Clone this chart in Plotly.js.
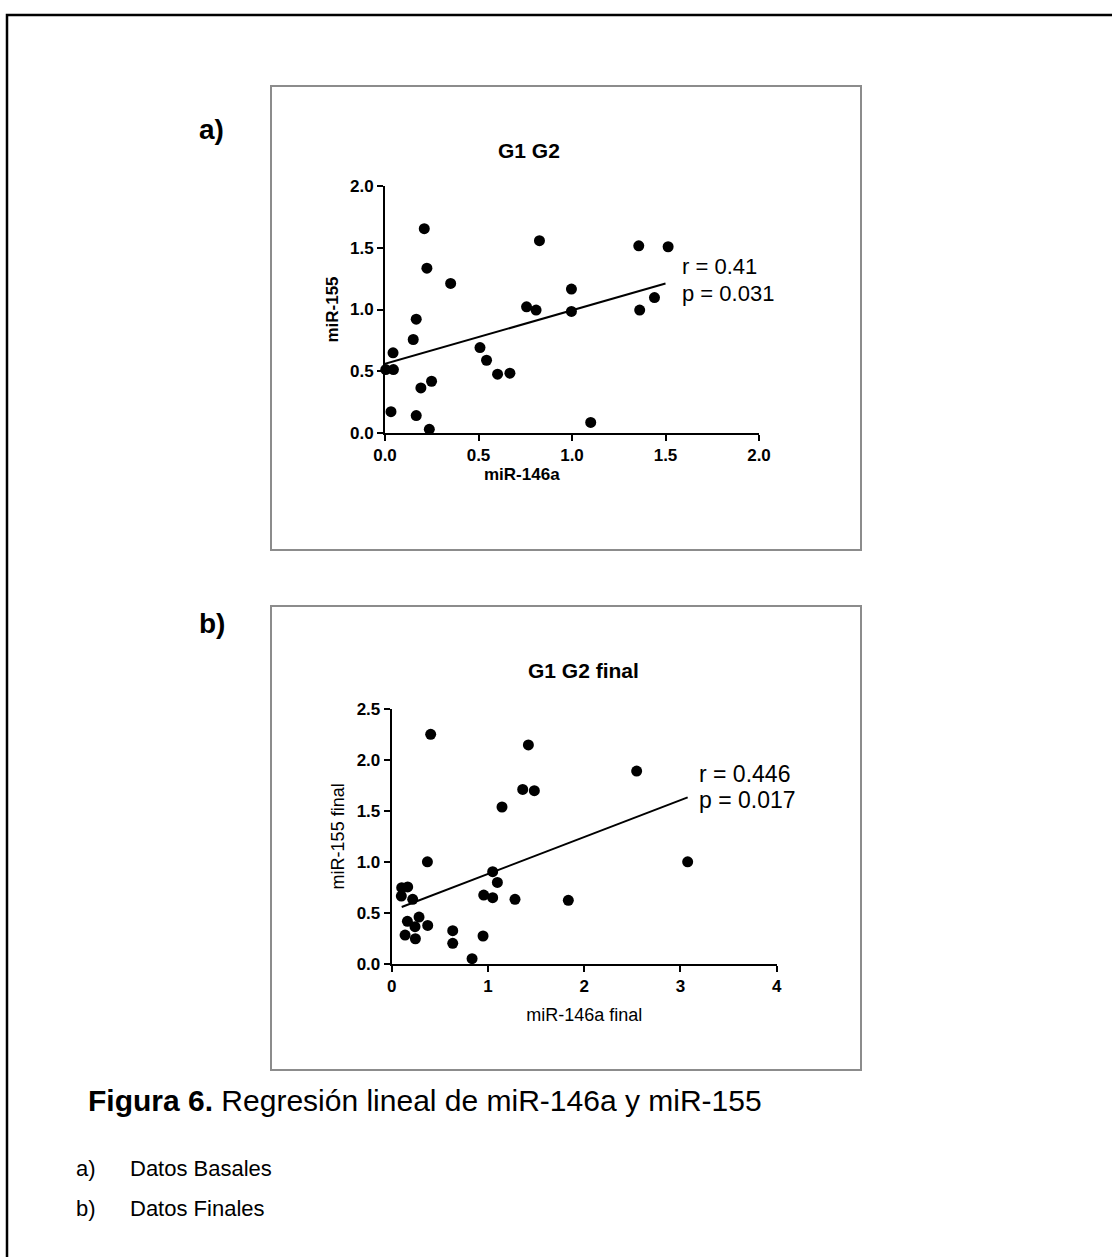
<!DOCTYPE html>
<html>
<head>
<meta charset="utf-8">
<script src="https://cdn.plot.ly/plotly-3.0.1.min.js"></script>
<style>html,body{margin:0;padding:0;background:#fff;}</style>
</head>
<body>
<div id="chart" style="width:1112px;height:1257px;"></div>
<script>
// ---- Data: panel a (basal) ----
const basalMiR146a = [0.21,0.826,1.357,1.514,0.224,0.351,0.997,1.441,0.757,0.808,0.997,1.362,0.167,0.151,0.043,0.508,0.543,0.602,0.668,0.004,0.045,0.249,0.192,0.032,0.167,1.10,0.237];
const basalMiR155  = [1.654,1.557,1.516,1.508,1.335,1.211,1.165,1.097,1.022,0.995,0.984,0.995,0.922,0.757,0.649,0.692,0.589,0.476,0.484,0.514,0.514,0.419,0.365,0.173,0.141,0.086,0.03];
const basalFitX = [0, 1.5];
const basalFitY = [0.56, 1.21];
const basalStats = ["r = 0.41", "p = 0.031"];

// ---- Data: panel b (final) ----
const finalMiR146a = [0.405,1.42,2.545,1.361,1.482,1.146,0.371,3.075,1.049,1.098,0.956,1.049,1.281,1.835,0.104,0.166,0.10,0.218,0.163,0.284,0.242,0.374,0.139,0.246,0.634,0.634,0.949,0.835];
const finalMiR155  = [2.251,2.147,1.891,1.711,1.698,1.538,1.0,1.0,0.903,0.798,0.674,0.648,0.632,0.622,0.746,0.753,0.664,0.632,0.416,0.458,0.363,0.376,0.281,0.245,0.324,0.2,0.272,0.049];
const finalFitX = [0.104, 3.075];
const finalFitY = [0.556, 1.633];
const finalStats = ["r = 0.446", "p = 0.017"];

// ---- Text ----
const panelTitles = ["G1 G2", "G1 G2 final"];
const panelLetters = ["a)", "b)"];
const axisTitles = {ax: "miR-146a", ay: "miR-155", bx: "miR-146a final", by: "miR-155 final"};
const captionBold = "Figura 6.";
const captionRest = " Regresión lineal de miR-146a y miR-155";
const captionItems = [["a)", "Datos Basales"], ["b)", "Datos Finales"]];

// ---- helpers (pixel -> paper) ----
const W = 1112, H = 1257;
const px = x => x / W;
const py = y => 1 - y / H;
const FONT = "Liberation Sans, Arial, Helvetica, sans-serif";

const marker = {color: "#000", size: 11};
const traces = [
  {x: basalMiR146a, y: basalMiR155, mode: "markers", type: "scatter", marker: marker, xaxis: "x", yaxis: "y", cliponaxis: false},
  {x: basalFitX, y: basalFitY, mode: "lines", type: "scatter", line: {color: "#000", width: 2}, xaxis: "x", yaxis: "y", cliponaxis: false},
  {x: finalMiR146a, y: finalMiR155, mode: "markers", type: "scatter", marker: marker, xaxis: "x2", yaxis: "y2", cliponaxis: false},
  {x: finalFitX, y: finalFitY, mode: "lines", type: "scatter", line: {color: "#000", width: 2}, xaxis: "x2", yaxis: "y2", cliponaxis: false}
];

const tickFont = {family: FONT, size: 17, color: "#000", weight: "bold"};
function axisBase(extra) {
  return Object.assign({
    showline: true, linecolor: "#000", linewidth: 2,
    ticks: "outside", ticklen: 6, tickwidth: 2, tickcolor: "#000",
    showgrid: false, zeroline: false, fixedrange: true,
    tickfont: tickFont
  }, extra);
}

const layout = {
  width: W, height: H,
  margin: {l: 0, r: 0, t: 0, b: 0},
  paper_bgcolor: "#fff", plot_bgcolor: "rgba(0,0,0,0)",
  showlegend: false,
  font: {family: FONT, color: "#000"},
  xaxis: axisBase({domain: [px(385), px(759)], range: [0, 2], dtick: 0.5, tickformat: ".1f", anchor: "y"}),
  yaxis: axisBase({domain: [py(433), py(186)], range: [0, 2], dtick: 0.5, tickformat: ".1f", anchor: "x",
    title: {text: axisTitles.ay, font: {family: FONT, size: 17, weight: "bold", color: "#000"}, standoff: 7}}),
  xaxis2: axisBase({domain: [px(391.7), px(776.7)], range: [0, 4], dtick: 1, tickformat: "d", anchor: "y2",
    title: {text: axisTitles.bx, font: {family: FONT, size: 18, color: "#000"}, standoff: 13}}),
  yaxis2: axisBase({domain: [py(963.7), py(709)], range: [0, 2.5], dtick: 0.5, tickformat: ".1f", anchor: "x2",
    title: {text: axisTitles.by, font: {family: FONT, size: 18, color: "#000"}, standoff: 7}}),
  shapes: [
    {type: "rect", xref: "paper", yref: "paper", x0: px(7), x1: px(1125), y0: py(15), y1: py(1270), line: {color: "#000", width: 2.5}},
    {type: "rect", xref: "paper", yref: "paper", x0: px(271), x1: px(861), y0: py(86), y1: py(550), line: {color: "#8c8c8c", width: 2}},
    {type: "rect", xref: "paper", yref: "paper", x0: px(271), x1: px(861), y0: py(606), y1: py(1070), line: {color: "#8c8c8c", width: 2}}
  ],
  annotations: []
};

function ann(text, x, y, size, opts) {
  layout.annotations.push(Object.assign({
    text: text, xref: "paper", yref: "paper", x: px(x), y: py(y),
    xanchor: "left", yanchor: "middle", showarrow: false,
    font: {family: FONT, size: size, color: "#000"}
  }, opts || {}));
}

// panel titles
ann(panelTitles[0], 529, 150, 21, {xanchor: "center", font: {family: FONT, size: 21, color: "#000", weight: "bold"}});
ann(panelTitles[1], 583, 670, 21, {xanchor: "center", font: {family: FONT, size: 21, color: "#000", weight: "bold"}});
// x-axis title of panel a (sits left of the axis centre in the reference)
ann(axisTitles.ax, 522, 475, 17, {xanchor: "center", font: {family: FONT, size: 17, color: "#000", weight: "bold"}});
// panel letters
ann(panelLetters[0], 197, 129, 28, {font: {family: FONT, size: 28, color: "#000", weight: "bold"}});
ann(panelLetters[1], 197, 623, 28, {font: {family: FONT, size: 28, color: "#000", weight: "bold"}});
// stats
ann(basalStats[0], 680, 267, 22);
ann(basalStats[1], 680, 294, 22);
ann(finalStats[0], 697, 774, 23);
ann(finalStats[1], 697, 800, 23);
// caption
ann("<b>" + captionBold + "</b>" + captionRest, 86, 1100, 30);
ann(captionItems[0][0], 74, 1168, 22);
ann(captionItems[0][1], 128, 1168, 22);
ann(captionItems[1][0], 74, 1208, 22);
ann(captionItems[1][1], 128, 1208, 22);

Plotly.newPlot("chart", traces, layout, {displayModeBar: false, staticPlot: true});
</script>
</body>
</html>
